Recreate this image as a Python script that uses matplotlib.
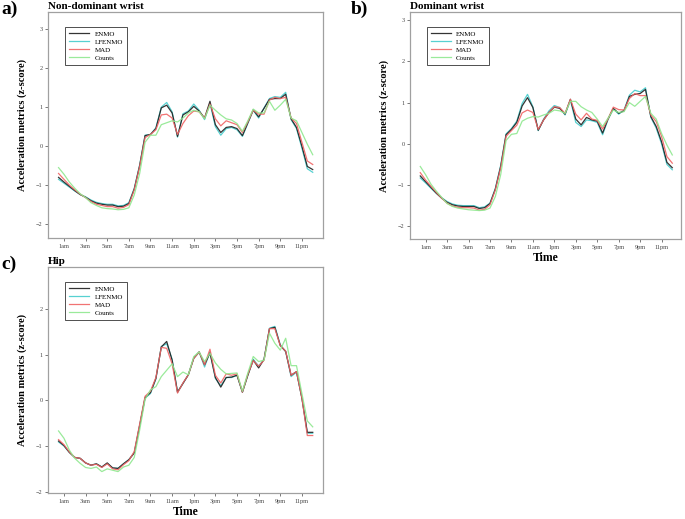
import matplotlib
matplotlib.use("Agg")
import matplotlib.pyplot as plt
import numpy as np

plt.rcParams['font.family'] = ['Liberation Serif', 'DejaVu Serif']

# half-hourly time slots, 00:30 .. 24:00
hours = np.arange(0.5, 24.01, 0.5)
tick_pos = [1, 3, 5, 7, 9, 11, 13, 15, 17, 19, 21, 23]
tick_labels = ["1am", "3am", "5am", "7am", "9am", "11am",
               "1pm", "3pm", "5pm", "7pm", "9pm", "11pm"]

# a) Non-dominant wrist
enmo_a = [-0.80, -0.92, -1.03, -1.14, -1.24, -1.31, -1.40, -1.46, -1.49, -1.51, -1.51, -1.55,
          -1.54, -1.47, -1.10, -0.50, 0.27, 0.30, 0.45, 0.98, 1.05, 0.85, 0.25, 0.80,
          0.88, 1.02, 0.90, 0.72, 1.15, 0.55, 0.35, 0.48, 0.50, 0.45, 0.27, 0.60,
          0.93, 0.75, 0.97, 1.20, 1.22, 1.22, 1.33, 0.70, 0.48, 0.00, -0.52, -0.60]
lfenmo_a = [-0.85, -0.95, -1.05, -1.15, -1.24, -1.30, -1.38, -1.44, -1.47, -1.49, -1.49, -1.53,
            -1.52, -1.45, -1.08, -0.48, 0.28, 0.30, 0.47, 1.00, 1.12, 0.88, 0.23, 0.83,
            0.90, 1.08, 0.92, 0.68, 1.10, 0.50, 0.28, 0.45, 0.48, 0.42, 0.25, 0.58,
            0.92, 0.72, 0.98, 1.22, 1.27, 1.25, 1.38, 0.68, 0.45, -0.05, -0.58, -0.67]
mad_a = [-0.70, -0.85, -1.00, -1.12, -1.23, -1.32, -1.42, -1.49, -1.52, -1.55, -1.55, -1.59,
         -1.57, -1.50, -1.12, -0.52, 0.22, 0.30, 0.42, 0.80, 0.82, 0.72, 0.30, 0.58,
         0.78, 0.90, 0.88, 0.72, 1.08, 0.70, 0.52, 0.65, 0.60, 0.55, 0.35, 0.62,
         0.92, 0.82, 0.82, 1.18, 1.25, 1.22, 1.25, 0.72, 0.58, 0.10, -0.38, -0.47]
counts_a = [-0.55, -0.72, -0.92, -1.08, -1.22, -1.32, -1.45, -1.52, -1.58, -1.60, -1.61, -1.63,
            -1.62, -1.58, -1.25, -0.70, 0.10, 0.28, 0.28, 0.55, 0.60, 0.65, 0.62, 0.72,
            0.85, 0.92, 0.88, 0.70, 1.05, 0.92, 0.80, 0.70, 0.67, 0.58, 0.38, 0.65,
            0.95, 0.85, 0.85, 1.15, 0.92, 1.05, 1.20, 0.72, 0.65, 0.35, 0.05, -0.22]

# b) Dominant wrist
enmo_b = [-0.78, -0.92, -1.06, -1.20, -1.32, -1.42, -1.48, -1.51, -1.52, -1.52, -1.52, -1.57,
          -1.55, -1.45, -1.10, -0.55, 0.22, 0.35, 0.52, 0.92, 1.12, 0.88, 0.33, 0.58,
          0.76, 0.89, 0.86, 0.72, 1.08, 0.60, 0.46, 0.64, 0.58, 0.55, 0.26, 0.60,
          0.86, 0.74, 0.80, 1.15, 1.20, 1.22, 1.32, 0.66, 0.42, 0.05, -0.45, -0.58]
lfenmo_b = [-0.83, -0.95, -1.08, -1.20, -1.31, -1.40, -1.46, -1.49, -1.50, -1.50, -1.50, -1.55,
            -1.53, -1.44, -1.08, -0.52, 0.24, 0.37, 0.55, 0.98, 1.20, 0.90, 0.32, 0.60,
            0.80, 0.93, 0.88, 0.70, 1.06, 0.52, 0.42, 0.58, 0.56, 0.52, 0.22, 0.58,
            0.85, 0.72, 0.82, 1.18, 1.30, 1.26, 1.36, 0.64, 0.38, 0.00, -0.50, -0.63]
mad_b = [-0.70, -0.88, -1.03, -1.18, -1.32, -1.44, -1.51, -1.54, -1.55, -1.55, -1.56, -1.61,
         -1.59, -1.48, -1.12, -0.58, 0.18, 0.32, 0.45, 0.75, 0.82, 0.76, 0.35, 0.58,
         0.76, 0.90, 0.88, 0.74, 1.08, 0.72, 0.58, 0.74, 0.60, 0.57, 0.36, 0.60,
         0.89, 0.83, 0.82, 1.10, 1.22, 1.17, 1.17, 0.70, 0.54, 0.18, -0.31, -0.47]
counts_b = [-0.55, -0.75, -0.98, -1.15, -1.30, -1.45, -1.52, -1.56, -1.58, -1.60, -1.61, -1.62,
            -1.61, -1.56, -1.28, -0.75, 0.08, 0.23, 0.25, 0.55, 0.62, 0.66, 0.65, 0.70,
            0.74, 0.82, 0.80, 0.74, 1.03, 1.03, 0.90, 0.82, 0.76, 0.60, 0.42, 0.62,
            0.82, 0.76, 0.78, 1.00, 0.91, 1.03, 1.15, 0.74, 0.60, 0.25, -0.03, -0.27]

# c) Hip
enmo_c = [-0.89, -0.99, -1.14, -1.25, -1.27, -1.37, -1.42, -1.39, -1.46, -1.37, -1.48, -1.49,
          -1.39, -1.30, -1.15, -0.55, 0.06, 0.17, 0.48, 1.17, 1.29, 0.88, 0.18, 0.37,
          0.56, 0.92, 1.06, 0.78, 1.04, 0.50, 0.29, 0.50, 0.51, 0.55, 0.18, 0.55,
          0.88, 0.71, 0.90, 1.57, 1.60, 1.20, 1.07, 0.55, 0.63, 0.05, -0.70, -0.70]
lfenmo_c = [-0.91, -1.00, -1.14, -1.25, -1.27, -1.37, -1.42, -1.39, -1.46, -1.38, -1.48, -1.49,
            -1.39, -1.30, -1.15, -0.55, 0.05, 0.15, 0.47, 1.18, 1.24, 0.90, 0.18, 0.37,
            0.56, 0.93, 1.06, 0.73, 1.06, 0.48, 0.32, 0.50, 0.50, 0.55, 0.18, 0.55,
            0.90, 0.75, 0.90, 1.58, 1.62, 1.22, 1.07, 0.52, 0.62, 0.05, -0.72, -0.72]
mad_c = [-0.86, -0.97, -1.13, -1.25, -1.27, -1.37, -1.42, -1.40, -1.47, -1.39, -1.50, -1.52,
         -1.41, -1.32, -1.12, -0.52, 0.09, 0.20, 0.50, 1.16, 1.14, 0.80, 0.16, 0.38,
         0.56, 0.92, 1.06, 0.78, 1.12, 0.55, 0.38, 0.58, 0.55, 0.58, 0.18, 0.57,
         0.87, 0.75, 0.88, 1.57, 1.57, 1.20, 1.08, 0.55, 0.63, 0.05, -0.77, -0.77]
counts_c = [-0.67, -0.83, -1.09, -1.27, -1.38, -1.47, -1.49, -1.46, -1.56, -1.50, -1.53, -1.56,
            -1.46, -1.42, -1.25, -0.65, 0.02, 0.23, 0.30, 0.52, 0.66, 0.80, 0.52, 0.62,
            0.56, 0.96, 1.06, 0.85, 1.03, 0.82, 0.68, 0.58, 0.59, 0.60, 0.20, 0.60,
            0.96, 0.85, 0.88, 1.47, 1.25, 1.10, 1.36, 0.76, 0.76, 0.15, -0.45, -0.58]

names = ["ENMO", "LFENMO", "MAD", "Counts"]
colors = {"ENMO": "#1e1e1e", "LFENMO": "#45cccc", "MAD": "#f06464", "Counts": "#8fe88f"}
draw_order = ["LFENMO", "ENMO", "MAD", "Counts"]

panels = [
    ("a)", "Non-dominant wrist", [0.070, 0.541, 0.402, 0.436], (-0.48, 24.98), (-2.36, 3.44),
     [-2, -1, 0, 1, 2, 3], False,
     {"ENMO": enmo_a, "LFENMO": lfenmo_a, "MAD": mad_a, "Counts": counts_a}),
    ("b)", "Dominant wrist", [0.5985, 0.5395, 0.395, 0.4375], (-0.46, 24.77), (-2.31, 3.20),
     [-2, -1, 0, 1, 2, 3], True,
     {"ENMO": enmo_b, "LFENMO": lfenmo_b, "MAD": mad_b, "Counts": counts_b}),
    ("c)", "Hip", [0.070, 0.050, 0.402, 0.4355], (-0.48, 24.98), (-2.03, 2.92),
     [-2, -1, 0, 1, 2], True,
     {"ENMO": enmo_c, "LFENMO": lfenmo_c, "MAD": mad_c, "Counts": counts_c}),
]

fig = plt.figure(figsize=(6.85, 5.19), dpi=100)

for tag, title, rect, xlim, ylim, yticks, show_time, data in panels:
    ax = fig.add_axes(rect)
    handles = {}
    for nm in draw_order:
        ln, = ax.plot(hours, data[nm], color=colors[nm], lw=0.9, alpha=0.9)
        handles[nm] = ln
    ax.set_xlim(*xlim)
    ax.set_ylim(*ylim)
    ax.set_xticks(tick_pos)
    ax.set_xticklabels(tick_labels)
    ax.set_yticks(yticks)
    ax.tick_params(labelsize=4.5, colors="#444444", length=2, width=0.5, pad=2)
    for sp in ax.spines.values():
        sp.set_color("#a0a0a0")
        sp.set_linewidth(0.9)
    ax.set_title(title, loc="left", fontsize=8, fontweight="bold", pad=2)
    ax.set_ylabel("Acceleration metrics (z-score)", fontsize=7.5, fontweight="bold", labelpad=6)
    if show_time:
        ax.set_xlabel("Time", fontsize=8.5, fontweight="bold", labelpad=1.5)
    leg = ax.legend([handles[n] for n in names], names, loc="upper left",
                    bbox_to_anchor=(0.05, 0.95), fontsize=5, handlelength=2.8,
                    fancybox=False, framealpha=1, borderpad=0.6, labelspacing=0.3)
    leg.get_frame().set_edgecolor("#333333")
    leg.get_frame().set_linewidth(0.6)
    x0 = 0.002 if tag != "b)" else 0.512
    y0 = rect[1] + rect[3] + 0.021
    fig.text(x0, y0, tag, fontsize=14, fontweight="bold", va="top", ha="left")

fig.savefig("out.png", dpi=100)
